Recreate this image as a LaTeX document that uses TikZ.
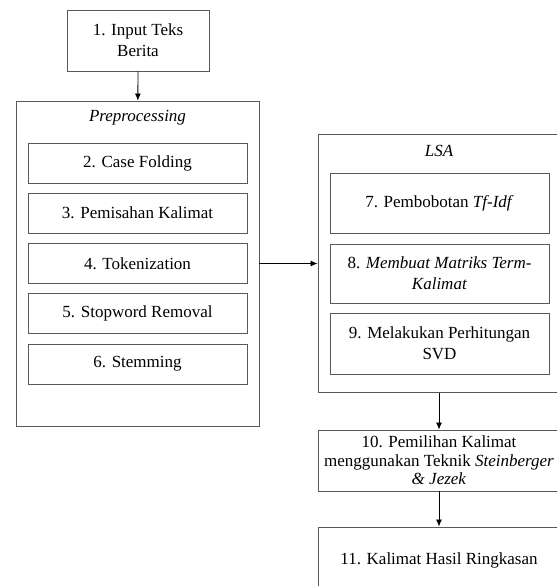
\documentclass[tikz,border=0pt]{standalone}
\usepackage{fontspec}
\setmainfont{Liberation Serif}
\usetikzlibrary{arrows.meta}

\begin{document}
\begin{tikzpicture}[x=1pt, y=-1pt,
    box/.style={draw=black!65, line width=0.9pt, align=center, inner sep=0pt,
        font=\fontsize{17}{21}\selectfont},
    inbox/.style={box, minimum width=219pt},
    flow/.style={-{Latex[length=7pt, width=6pt]}, black, line width=0.8pt}]
    \useasboundingbox (0,0) rectangle (557,586);
    \clip (0,0) rectangle (557,586);
    % Outer group boxes.
        \node[box, minimum width=243pt, minimum height=325pt] (pre) at (137.5,263.5) {};
        \node[box, minimum width=242pt, minimum height=258pt] (lsa) at (439,263.5) {};
    % Below nodes are the group labels.
        \node[box, draw=none] (prelabel) at (137.5,118) {\textit{Preprocessing}};
        \node[box, draw=none] (lsalabel) at (439,151) {\textit{LSA}};
    % Steps of the flow.
        \node[box, minimum width=142pt, minimum height=61pt] (input) at (138,40.5) {1. Input Teks\\Berita};
        \node[inbox, minimum height=40pt] (fold) at (137.5,163) {2. Case Folding};
        \node[inbox, minimum height=40pt] (split) at (137.5,213) {3. Pemisahan Kalimat};
        \node[inbox, minimum height=40pt] (token) at (137.5,263.5) {4. Tokenization};
        \node[inbox, minimum height=40pt] (stop) at (137.5,313) {5. Stopword Removal};
        \node[inbox, minimum height=40pt] (stem) at (137.5,364) {6. Stemming};
        \node[inbox, minimum height=60pt] (tfidf) at (439.5,203) {7. Pembobotan \textit{Tf-Idf}};
        \node[inbox, minimum height=59pt] (matrix) at (439.5,273.5) {8. \textit{Membuat Matriks Term-}\\\textit{Kalimat}};
        \node[inbox, minimum height=61pt] (svd) at (439.5,343.5) {9. Melakukan Perhitungan\\SVD};
        \node[box, minimum width=242pt, minimum height=61pt, font=\fontsize{17}{18.5}\selectfont] (select) at (439,460.5)
            {10. Pemilihan Kalimat\\menggunakan Teknik \textit{Steinberger}\\\textit{\& Jezek}};
        \node[box, minimum width=242pt, minimum height=66pt] (summary) at (439,560) {11. Kalimat Hasil Ringkasan};
    % This draws the arrows.
        \draw[flow] (input) -- (pre);
        \draw[flow] (pre.east) -- (lsa.west);
        \draw[flow] (lsa) -- (select);
        \draw[flow] (select) -- (summary);
\end{tikzpicture}
\end{document}
